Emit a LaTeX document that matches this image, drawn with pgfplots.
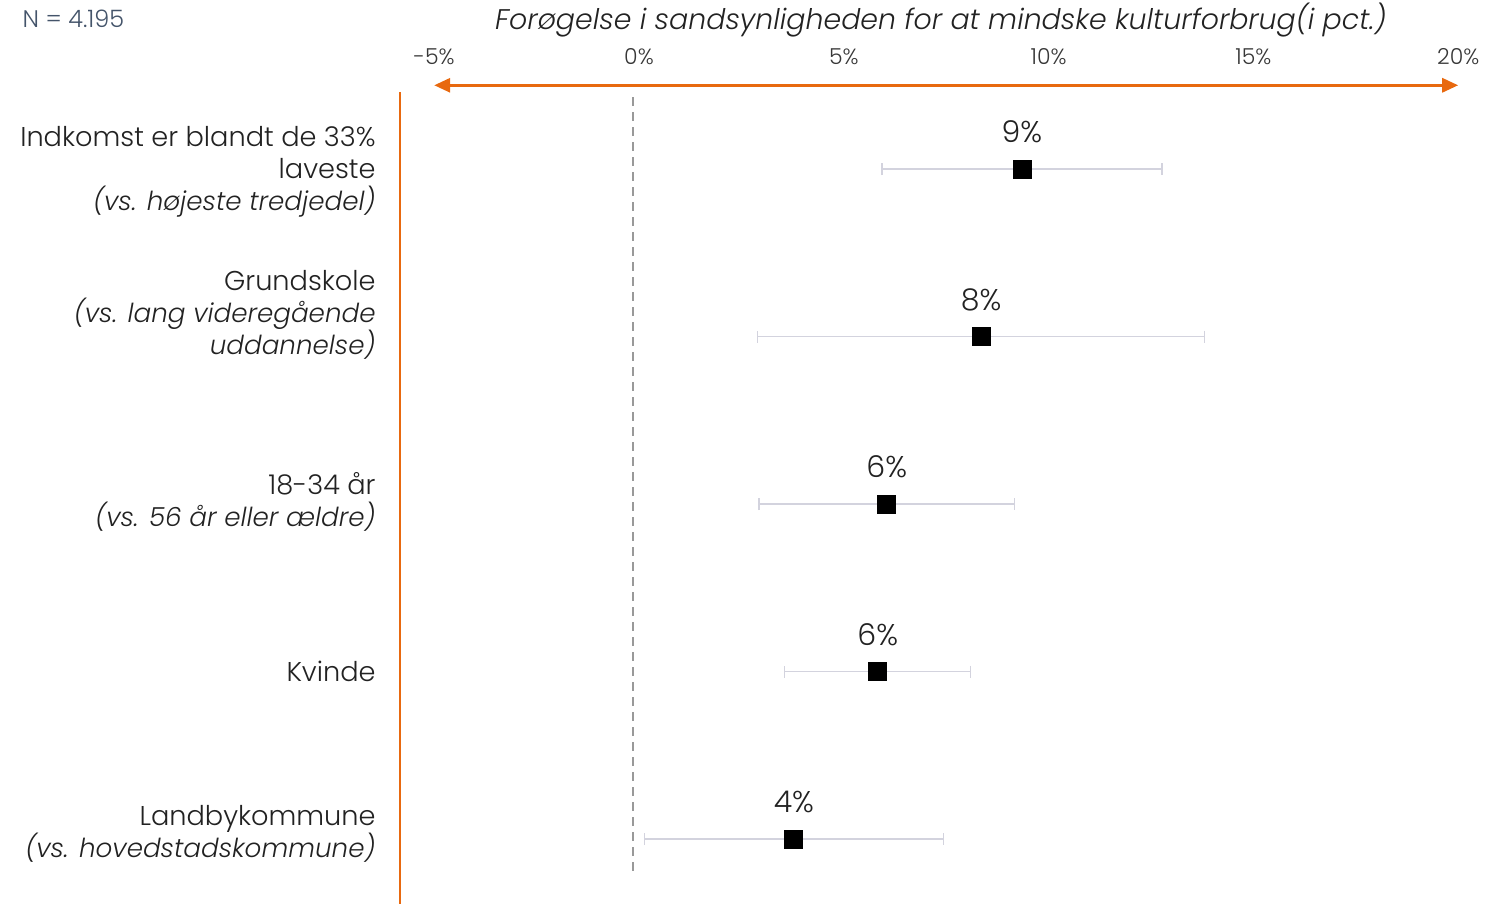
\documentclass[border=0pt]{standalone}
\usepackage{pgfplots}
\pgfplotsset{compat=1.18}
\usepackage{pgfplotstable}
\usepackage{fontspec}
\setmainfont{Poppins Light}[ItalicFont={Poppins Light Italic}]
\usetikzlibrary{arrows.meta}
\definecolor{orng}{HTML}{E8690F}
\definecolor{errc}{HTML}{D3D3DE}
\definecolor{dashc}{HTML}{999999}
\definecolor{ncol}{HTML}{44546A}
\definecolor{txt}{HTML}{222222}
\newcommand{\itl}[1]{{\fontsize{13.1}{16}\selectfont\itshape #1}}

\pgfplotstableread{
x     y  ex    lab
9.35  5  3.42  9\%
8.35  4  5.45  8\%
6.05  3  3.12  6\%
5.83  2  2.27  6\%
3.78  1  3.65  4\%
}\pts

\begin{document}
\begin{tikzpicture}
\path[use as bounding box] (0,0) rectangle (750.5pt,452pt);
\begin{axis}[
  at={(200pt,0pt)}, anchor=south west,
  scale only axis,
  width=539.35pt, height=406pt,
  xmin=-5.835, xmax=20.5,
  ymin=0.612, ymax=5.46,
  clip=false,
  axis line style={draw=none},
  major tick length=0pt,
  xtick={-5,0,5,10,15,20},
  xticklabels={-5\%,0\%,5\%,10\%,15\%,20\%},
  xticklabel pos=top,
  xticklabel style={anchor=base, yshift=13.5pt, font=\fontsize{11}{13}\selectfont, text=txt!90},
  ytick={1.03,2.0,3.012,4.128,4.982},
  yticklabels={
    {Landbykommune\\\itl{(vs. hovedstadskommune)}},
    {Kvinde},
    {18-34 år\\\itl{(vs. 56 år eller ældre)}},
    {Grundskole\\\itl{(vs. lang videregående}\\\itl{uddannelse)}},
    {Indkomst er blandt de 33\%\\laveste\\\itl{(vs. højeste tredjedel)}}
  },
  yticklabel style={align=right, anchor=east, inner sep=0pt, xshift=-12pt,
    font=\fontsize{13.6}{16}\selectfont, text=txt},
]
\draw[orng, line width=1pt] (rel axis cs:0,0) -- (rel axis cs:0,1);
\draw[dashc, line width=1.2pt, dash pattern=on 4.5pt off 3pt] (axis cs:-0.146,5.43) -- (axis cs:-0.146,0.797);
\draw[orng, line width=1.5pt, {Triangle[length=8pt,width=7pt]}-{Triangle[length=8pt,width=7pt]}] (axis cs:-5,5.50) -- (axis cs:20,5.50);
\node[font=\fontsize{14.2}{16}\selectfont\itshape, text=txt] at (axis cs:7.37,5.89) {Forøgelse i sandsynligheden for at mindske kulturforbrug(i pct.)};
\node[font=\fontsize{12}{14}\selectfont, text=ncol, anchor=west, inner sep=0pt] at (axis cs:-15.06,5.895) {N = 4.195};
\addplot[
  only marks, mark=square*, mark size=4.5pt, mark options={fill=black, draw=black},
  error bars/.cd, x dir=both, x explicit, error mark=|,
  error bar style={errc, line width=0.7pt},
  error mark options={errc, mark size=3pt, line width=0.6pt},
] table[x=x, y=y, x error=ex] {\pts};
\addplot[
  only marks, mark=none,
  point meta=explicit symbolic,
  nodes near coords,
  nodes near coords style={anchor=center, yshift=18.5pt, font=\fontsize{15}{16}\selectfont, text=txt},
] table[x=x, y=y, meta=lab] {\pts};
\end{axis}
\end{tikzpicture}
\end{document}
